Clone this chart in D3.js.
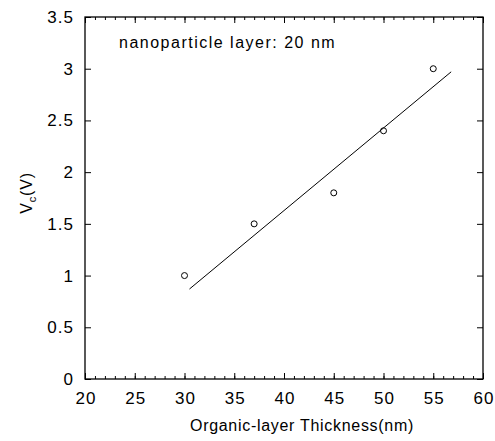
<!DOCTYPE html>
<html>
<head>
<meta charset="utf-8">
<script src="https://cdn.jsdelivr.net/npm/d3@7"></script>
<style>
  body { margin: 0; background: #fff; }
  svg { display: block; font-family: "Liberation Sans", Arial, sans-serif; }
</style>
</head>
<body>
<div id="chart"></div>
<script>
// measured points
const thickness = [30, 37, 45, 50, 55];
const vc = [1.0, 1.5, 1.8, 2.4, 3.0];
// fitted line endpoints as drawn
const fitX = [30.5, 56.8];
const fitY = [0.87, 2.97];
const xTicks = [20, 25, 30, 35, 40, 45, 50, 55, 60];
const yTicks = [0, 0.5, 1, 1.5, 2, 2.5, 3, 3.5];

const width = 495, height = 441;
const margin = { top: 17, right: 12, bottom: 62, left: 85 };

const svg = d3.select("#chart").append("svg")
    .attr("width", width)
    .attr("height", height);

const x = d3.scaleLinear()
    .domain([20, 60])
    .range([margin.left, width - margin.right]);

const y = d3.scaleLinear()
    .domain([0, 3.5])
    .range([height - margin.bottom, margin.top]);

const minorX = d3.range(20, 61, 1);
const labelStyle = g => g.selectAll("text")
    .attr("font-size", 17)
    .attr("letter-spacing", 1)
    .attr("fill", "#000")
    .attr("font-family", "Liberation Sans, Arial, sans-serif");

// bottom axis: major + minor ticks pointing inward
svg.append("g")
    .attr("transform", `translate(0,${y(0)})`)
    .call(d3.axisTop(x).tickValues(minorX).tickSize(3).tickFormat(""))
    .call(g => g.select(".domain").remove());
svg.append("g")
    .attr("transform", `translate(0,${y(0)})`)
    .call(d3.axisTop(x).tickValues(xTicks).tickSize(6).tickFormat(""))
    .call(g => g.select(".domain").remove());
svg.append("g")
    .attr("transform", `translate(0,${y(0)})`)
    .call(d3.axisBottom(x).tickValues(xTicks).tickSize(0).tickPadding(13)
        .tickFormat(d => String(d)))
    .call(g => g.select(".domain").remove())
    .call(labelStyle)
    .call(g => g.selectAll("text").attr("dx", 0.5));

// top axis
svg.append("g")
    .attr("transform", `translate(0,${y(3.5)})`)
    .call(d3.axisBottom(x).tickValues(minorX).tickSize(3).tickFormat(""))
    .call(g => g.select(".domain").remove());
svg.append("g")
    .attr("transform", `translate(0,${y(3.5)})`)
    .call(d3.axisBottom(x).tickValues(xTicks).tickSize(6).tickFormat(""))
    .call(g => g.select(".domain").remove());

// left axis
svg.append("g")
    .attr("transform", `translate(${x(20)},0)`)
    .call(d3.axisRight(y).tickValues(yTicks).tickSize(6).tickFormat(""))
    .call(g => g.select(".domain").remove());
svg.append("g")
    .attr("transform", `translate(${x(20)},0)`)
    .call(d3.axisLeft(y).tickValues(yTicks).tickSize(0).tickPadding(11)
        .tickFormat(d => String(d)))
    .call(g => g.select(".domain").remove())
    .call(labelStyle);

// right axis
svg.append("g")
    .attr("transform", `translate(${x(60)},0)`)
    .call(d3.axisLeft(y).tickValues(yTicks).tickSize(6).tickFormat(""))
    .call(g => g.select(".domain").remove());

svg.selectAll(".tick line").attr("stroke", "#000").attr("stroke-width", 1);

// frame
svg.append("rect")
    .attr("x", x(20))
    .attr("y", y(3.5))
    .attr("width", x(60) - x(20))
    .attr("height", y(0) - y(3.5))
    .attr("fill", "none")
    .attr("stroke", "#000")
    .attr("stroke-width", 1.3);

// fit line
svg.append("line")
    .attr("x1", x(fitX[0]))
    .attr("y1", y(fitY[0]))
    .attr("x2", x(fitX[1]))
    .attr("y2", y(fitY[1]))
    .attr("stroke", "#000")
    .attr("stroke-width", 1);

// data points
svg.append("g")
    .selectAll("circle")
    .data(thickness.map((t, i) => ({ t: t, v: vc[i] })))
    .join("circle")
    .attr("cx", d => x(d.t))
    .attr("cy", d => y(d.v))
    .attr("r", 3)
    .attr("fill", "none")
    .attr("stroke", "#000")
    .attr("stroke-width", 1);

// annotation
svg.append("text")
    .attr("x", 119)
    .attr("y", 48)
    .attr("font-size", 16)
    .attr("letter-spacing", 1.5)
    .attr("fill", "#000")
    .text("nanoparticle layer: 20 nm");

// x label
svg.append("text")
    .attr("x", (x(20) + x(60)) / 2 + 18)
    .attr("y", 431)
    .attr("text-anchor", "middle")
    .attr("font-size", 16)
    .attr("letter-spacing", 0.7)
    .attr("fill", "#000")
    .text("Organic-layer Thickness(nm)");

// y label with subscript
const yl = svg.append("text")
    .attr("transform", `translate(32,193) rotate(-90)`)
    .attr("text-anchor", "middle")
    .attr("font-size", 16)
    .attr("letter-spacing", 0.8)
    .attr("fill", "#000");
yl.append("tspan").text("V");
yl.append("tspan").attr("font-size", 11).attr("dy", 4).text("c");
yl.append("tspan").attr("dy", -4).text("(V)");
</script>
</body>
</html>
